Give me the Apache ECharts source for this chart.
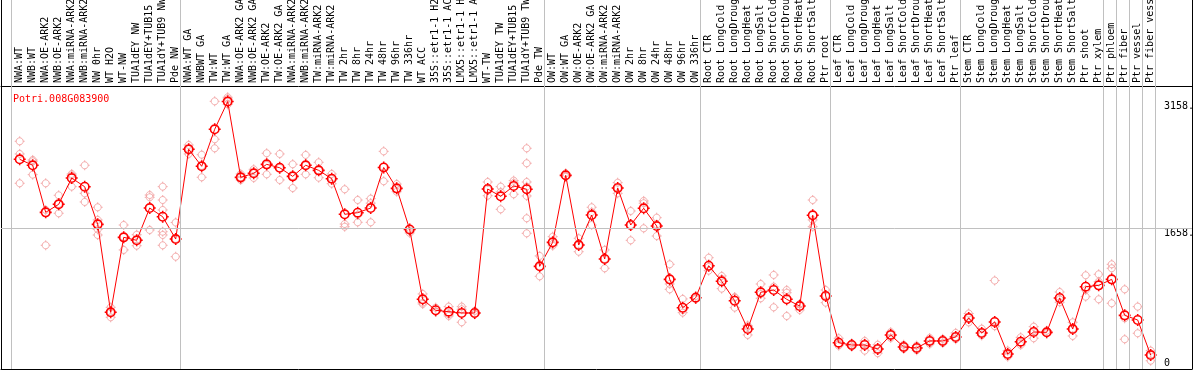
<!DOCTYPE html>
<html>
<head>
<meta charset="utf-8">
<script src="https://cdn.jsdelivr.net/npm/echarts@6/dist/echarts.min.js"></script>
<style>
html,body{margin:0;padding:0;background:#fff;}
#chart{width:1194px;height:370px;}
</style>
</head>
<body>
<div id="chart"></div>
<script>
const geneName = 'Potri.008G083900';

const categories = [
  'NWA:WT','NWB:WT','NWA:OE-ARK2','NWB:OE-ARK2','NWA:miRNA-ARK2','NWB:miRNA-ARK2','NW 0hr','WT H2O','WT-NW',
  'TUA1dEY NW','TUA1dEY+TUB15 NW','TUA1dY+TUB9 NW','Pde NW',
  'NWA:WT GA','NWBWT GA','TW:WT','TW:WT GA','NWA:OE-ARK2 GA','NWB:OE-ARK2 GA','TW:OE-ARK2','TW:OE-ARK2 GA',
  'NWA:miRNA-ARK2','NWB:miRNA-ARK2','TW:miRNA-ARK2','TW:miRNA-ARK2','TW 2hr','TW 8hr','TW 24hr','TW 48hr','TW 96hr','TW 336hr',
  'WT ACC','35S::etr1-1 H2O','35S::etr1-1 ACC','LMX5::etr1-1 H2O','LMX5::etr1-1 ACC','WT-TW','TUA1dEY TW','TUA1dEY+TUB15 TW','TUA1dY+TUB9 TW','Pde TW',
  'OW:WT','OW:WT GA','OW:OE-ARK2','OW:OE-ARK2 GA','OW:miRNA-ARK2','OW:miRNA-ARK2','OW 2hr','OW 8hr','OW 24hr','OW 48hr','OW 96hr','OW 336hr',
  'Root CTR','Root LongCold','Root LongDrought','Root LongHeat','Root LongSalt','Root ShortCold','Root ShortDrought','Root ShortHeat','Root ShortSalt','Ptr root',
  'Leaf CTR','Leaf LongCold','Leaf LongDrought','Leaf LongHeat','Leaf LongSalt','Leaf ShortCold','Leaf ShortDrought','Leaf ShortHeat','Leaf ShortSalt','Ptr leaf',
  'Stem CTR','Stem LongCold','Stem LongDrought','Stem LongHeat','Stem LongSalt','Stem ShortCold','Stem ShortDrought','Stem ShortHeat','Stem ShortSalt','Ptr shoot',
  'Ptr xylem','Ptr phloem','Ptr fiber','Ptr vessel','Ptr fiber vessel'
];

const meanValues = [
  2475,2404,1847,1942,2253,2150,1705,664,1551,1516,1898,1795,1531,
  2593,2392,2830,3158,2261,2309,2415,2375,2273,2404,2344,2245,1824,1843,1898,2378,2131,1644,
  818,688,671,656,656,2123,2037,2159,2120,1208,
  1492,2285,1460,1815,1295,2135,1697,1895,1685,1054,718,837,
  1215,1031,801,466,901,928,818,738,1812,857,
  304,277,277,230,396,254,242,325,325,372,
  597,419,550,170,316,431,427,833,466,967,
  983,1054,628,573,158
];

const replicateValues = [
  [2688,2538,2191],[2467,2451,2293],[2191,1875,1457],[2049,1836,1946],[2301,2285,2151],[2404,2072,1970],
  [1907,1757,1646,1579],[723,605,668],[1697,1402,1555],[1582,1452,1520],[2052,2025,1638],
  [2151,1993,1875,1618,1579,1457],[1727,1322,1532],
  [2644,2538,2597],[2529,2262,2396],[3161,2712,2605],[3209,3188,3125],[2301,2230,2262],[2356,2254,2313],
  [2546,2297,2407],[2538,2230,2372],[2416,2135,2277],[2526,2297,2404],[2439,2257,2345],[2301,2186,2245],
  [2120,1709,1677],[1993,1816,1729],[2009,1729,1956],[2569,2215,2384],[2182,2091,2123],[1650,1626,1603],
  [881,778,762],[719,671,674],[731,641,621],[731,700,546],[680,641,650],
  [2206,2044,2120],[2151,2088,1883],[2222,2061,2194],[2605,2428,2206,2151,2041,1777,1599],[1331,1090,1206],
  [1559,1452,1472],[2309,2269,2277],[1540,1381,1461],[1907,1697,1851],[1402,1185,1295],[2198,2072,2132],
  [1863,1516,1697],[1982,1955,1658],[1784,1567,1703],[1232,999,936],[822,692,660],[857,833,822],
  [1310,1157,1200],[1094,944,1058],[837,719,845],[494,396,508],[999,830,881],[1106,967,723],
  [928,896,620],[762,692,760],[1993,1757,1677],[928,778,863],
  [357,269,289],[297,257,277],[325,210,295],[280,230,180],[430,396,360],[280,254,230],
  [270,242,215],[360,325,290],[350,325,300],[420,372,345],
  [650,597,545],[470,419,390],[1040,560,500],[210,139,165],[368,277,305],[494,357,443],
  [446,416,425],[904,783,816],[546,384,467],[1102,928,849],
  [1114,1026,818],[1232,1185,771],[936,593,345],[731,416],[210,91,159]
];

// first category index of each sample group (last entry closes the final group)
const groupStarts = [0,13,41,53,63,73,84,85,86,87,88];
const yTickValues = [0, 1658, 3158];

const r = 3.5, k = 1.933, t = 5;
const ringPath = 'path://' +
  `M0,${-t}L0,${-r}M0,${r}L0,${t}M${-t},0L${-r},0M${r},0L${t},0` +
  `M${r},0C${r},${k} ${k},${r} 0,${r}C${-k},${r} ${-r},${k} ${-r},0` +
  `C${-r},${-k} ${-k},${-r} 0,${-r}C${k},${-r} ${r},${-k} ${r},0Z`;

const repData = [];
replicateValues.forEach((list, i) => list.forEach(v => repData.push([i, v])));
const meanData = meanValues.map((v, i) => [i, v]);

const FONT = 'DejaVu Sans Mono';
const chart = echarts.init(document.getElementById('chart'), null, {renderer: 'canvas'});
chart.setOption({
  animation: false,
  backgroundColor: '#ffffff',
  title: {
    text: geneName, left: 8, top: 89,
    textStyle: {color: '#ff0000', fontSize: 10, fontWeight: 'normal', fontFamily: FONT}
  },
  grid: {left: 1, right: 2, top: 0, bottom: 1, containLabel: false, outerBoundsMode: 'none'},
  xAxis: [{
    type: 'value', position: 'top', offset: -86,
    min: -1.4385, max: 90.177,
    axisLine: {show: true, onZero: false, lineStyle: {color: '#000', width: 1}},
    axisTick: {show: false},
    splitLine: {show: false},
    axisLabel: {
      customValues: categories.map((c, i) => i),
      formatter: v => categories[v],
      rotate: -90, margin: 3, color: '#000', fontSize: 10, fontFamily: FONT, hideOverlap: false
    }
  }, {
    type: 'value', position: 'bottom', min: 0, max: 1,
    axisLine: {show: true, onZero: false, lineStyle: {color: '#000', width: 1}},
    axisTick: {show: false}, axisLabel: {show: false}, splitLine: {show: false}
  }],
  yAxis: [{
    type: 'value', position: 'right', min: -7, max: 4360,
    axisLine: {show: true, onZero: false, lineStyle: {color: '#000', width: 1}},
    axisTick: {show: false}, splitLine: {show: false},
    axisLabel: {
      inside: true, margin: 28, align: 'left', verticalAlign: 'top',
      customValues: yTickValues.filter(v => v > 0),
      formatter: v => v + '.', color: '#000', fontSize: 10, fontFamily: FONT
    }
  }, {
    type: 'value', position: 'right', min: -7, max: 4360,
    axisLine: {show: false}, axisTick: {show: false}, splitLine: {show: false},
    axisLabel: {
      inside: true, margin: 28, align: 'left', verticalAlign: 'bottom',
      customValues: yTickValues.filter(v => v === 0),
      formatter: v => String(v), color: '#000', fontSize: 10, fontFamily: FONT
    }
  }, {
    type: 'value', position: 'left', min: -7, max: 4360,
    axisLine: {show: true, onZero: false, lineStyle: {color: '#000', width: 1}},
    axisTick: {show: false}, axisLabel: {show: false}, splitLine: {show: false}
  }],
  series: [{
    type: 'line', name: 'guides', data: [], silent: true,
    markLine: {
      silent: true, symbol: 'none', label: {show: false},
      lineStyle: {color: '#c0c0c0', width: 1, type: 'solid'},
      data: groupStarts.map(g => ({xAxis: g - 0.646})).concat([{yAxis: yTickValues[1]}])
    }
  }, {
    type: 'scatter', name: 'replicates', data: repData, symbol: ringPath, symbolSize: 10,
    itemStyle: {color: 'rgba(0,0,0,0)', borderColor: '#f09898', borderWidth: 1},
    z: 3
  }, {
    type: 'line', name: 'mean', data: meanData, symbol: ringPath, symbolSize: 12, showAllSymbol: true,
    lineStyle: {color: '#ff0000', width: 1},
    itemStyle: {color: 'rgba(0,0,0,0)', borderColor: '#ff0000', borderWidth: 1.6},
    z: 4
  }]
});
</script>
</body>
</html>
